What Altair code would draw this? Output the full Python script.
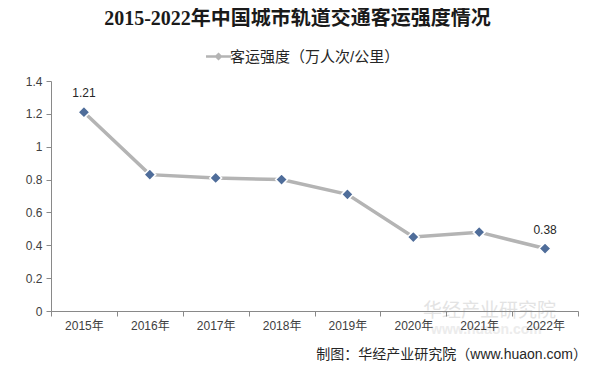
import altair as alt
import pandas as pd

years = ["2015年", "2016年", "2017年", "2018年", "2019年", "2020年", "2021年", "2022年"]
values = [1.21, 0.83, 0.81, 0.80, 0.71, 0.45, 0.48, 0.38]
label_years = ["2015年", "2022年"]
y_ticks = [0, 0.2, 0.4, 0.6, 0.8, 1.0, 1.2, 1.4]
series_name = "客运强度（万人次/公里）"
title_text = "2015-2022年中国城市轨道交通客运强度情况"
source_text = "制图：华经产业研究院（www.huaon.com）"
watermark_text = ["华经产业研究院"]
watermark_url = ["www.huaon.com"]

df = pd.DataFrame({"year": years, "value": values, "series": [series_name] * len(years)})

FONT = "Liberation Sans, Noto Sans CJK SC, sans-serif"

x_enc = alt.X("year:N", sort=years, title=None,
              scale=alt.Scale(paddingInner=0, paddingOuter=0),
              axis=alt.Axis(tickBand="extent", labelAngle=0, domainColor="#898989",
                            tickColor="#898989", tickSize=5, labelPadding=4, zindex=1,
                            labelFont=FONT, labelFontSize=12, labelColor="#404040"))
y_enc = alt.Y("value:Q", title=None,
              scale=alt.Scale(domain=[0, 1.4], nice=False),
              axis=alt.Axis(values=y_ticks, tickCount=8, grid=False,
                            labelExpr="format(datum.value, '~g')", labelOverlap=False,
                            labelFlush=False, zindex=1,
                            domainColor="#898989", tickColor="#898989", tickSize=5,
                            labelPadding=4, labelFont=FONT, labelFontSize=12,
                            labelColor="#404040"))

base = alt.Chart(df).encode(x=x_enc, y=y_enc)

line = base.mark_line(strokeWidth=3.5, color="#b4b4b4").encode(
    color=alt.Color("series:N", title=None,
                    scale=alt.Scale(range=["#b4b4b4"]),
                    legend=alt.Legend(orient="none", legendX=158, legendY=-34,
                                      symbolType="M-1.6,0H1.6M0,-0.3L0.3,0L0,0.3L-0.3,0Z",
                                      symbolSize=244, symbolStrokeWidth=2.5,
                                      symbolFillColor="#4F6D9A", labelOffset=2,
                                      labelFont=FONT, labelFontSize=15,
                                      labelColor="#262626", labelLimit=400)),
)

points = base.mark_point(shape="diamond", filled=True, size=140, fill="#4F6D9A",
                         stroke="white", strokeWidth=1.5, opacity=1)

labels = base.transform_filter(
    alt.FieldOneOfPredicate(field="year", oneOf=label_years)
).mark_text(dy=-19, font=FONT, fontSize=12, color="#262626").encode(
    text=alt.Text("value:Q", format=".2f"))

watermark = alt.Chart(pd.DataFrame({"t": watermark_text})).mark_text(
    font="Noto Sans CJK SC", fontSize=19, color="#e3e3e3",
    align="left", baseline="middle").encode(
    x=alt.value(372), y=alt.value(230), text="t:N")

watermark2 = alt.Chart(pd.DataFrame({"t": watermark_url})).mark_text(
    font="Liberation Sans", fontSize=14, fontWeight="bold", color="#ececec",
    align="left", baseline="middle").encode(
    x=alt.value(380), y=alt.value(249), text="t:N")

source = alt.Chart(pd.DataFrame({"t": [source_text]})).mark_text(
    font=FONT, fontSize=14, color="#262626", align="right", baseline="middle").encode(
    x=alt.value(536), y=alt.value(274), text="t:N")

chart = alt.layer(watermark, watermark2, line, points, labels, source).properties(
    width=527, height=230,
    autosize=alt.AutoSizeParams(type="none"),
    padding={"left": 43, "top": 73, "right": 9, "bottom": 54},
    title=alt.TitleParams(title_text, font="Liberation Serif, Noto Sans CJK SC, serif",
                          fontSize=20, fontWeight="bold", color="#1a1a1a",
                          anchor="middle", dx=-17, offset=18),
    background="white",
).configure_view(stroke=None)

chart.save("out.html", embed_options={"renderer": "svg", "actions": False})
